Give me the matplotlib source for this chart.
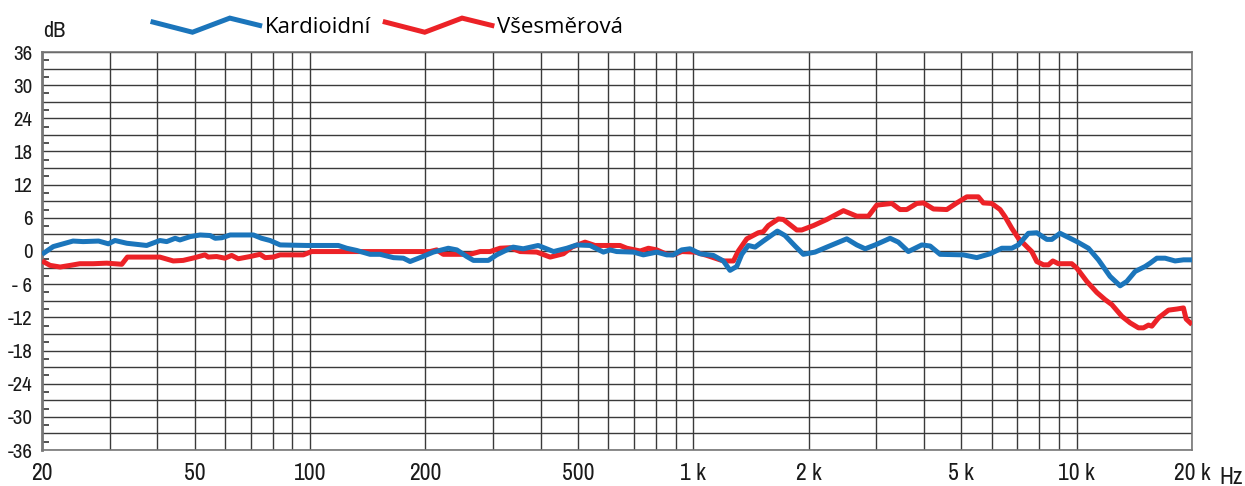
"""
plot.py

Frequency response of a microphone, cardioid vs. omnidirectional pattern.
"""
import matplotlib
matplotlib.use('Agg')
import matplotlib.pyplot as plt
import matplotlib.font_manager as fm
from matplotlib.font_manager import FontProperties
from matplotlib.legend_handler import HandlerBase
from matplotlib.lines import Line2D

# --- data (Hz, dB) ---
lstKardFreq = [20, 21.4, 24.1, 25.6, 28.1, 29.8, 31.0, 33.3, 37.5, 40.6, 42.3, 44.5, 45.8, 48.7,
               51.7, 54.9, 56.6, 58.9, 61.9, 71.2, 74.8, 78.7, 83.6, 98.1, 118.6, 124.7, 132.4,
               143.5, 152.4, 165.1, 175.3, 182.5, 193.7, 209.8, 229.6, 241.6, 256.5, 267, 292,
               307, 333, 339, 360, 394, 432, 468, 497, 538, 583, 607, 631, 698, 741, 803, 853,
               887, 933, 981, 1042, 1128, 1198, 1247, 1298, 1338, 1392, 1449, 1523, 1657, 1735,
               1843, 1937, 2078, 2230, 2514, 2670, 2808, 2982, 3262, 3428, 3640, 3946, 4148,
               4404, 5068, 5492, 5948, 6380, 6776, 7050, 7486, 7872, 8362, 8618, 9056, 10012,
               10736, 11400, 12228, 12986, 13520, 14212, 15092, 15552, 16192, 17018, 18070,
               18998, 20000]
lstKardDb = [-0.6, 0.8, 1.8, 1.7, 1.8, 1.3, 1.9, 1.4, 1.0, 1.9, 1.7, 2.3, 2.0, 2.6,
             2.9, 2.8, 2.3, 2.4, 2.9, 2.9, 2.3, 1.9, 1.1, 1.0, 1.0, 0.5, 0.1,
             -0.6, -0.6, -1.2, -1.3, -1.9, -1.2, -0.2, 0.5, 0.2, -1.0, -1.7, -1.7,
             -0.7, 0.5, 0.7, 0.4, 1.0, -0.1, 0.5, 1.1, 1.0, -0.2, 0.2, -0.1, -0.2, -0.7, -0.2, -0.7,
             -0.7, 0.2, 0.4, -0.5, -0.8, -1.8, -3.5, -2.8, -0.6, 1.0, 0.7, 1.8, 3.6, 2.8,
             0.9, -0.6, -0.2, 0.7, 2.2, 1.1, 0.4, 1.1, 2.3, 1.6, -0.1, 1.1, 0.9,
             -0.6, -0.7, -1.2, -0.5, 0.5, 0.5, 1.1, 3.2, 3.3, 2.1, 2.1, 3.2, 1.7,
             0.5, -1.6, -4.6, -6.3, -5.5, -3.7, -2.8, -2.2, -1.3, -1.3, -1.8,
             -1.6, -1.6]

lstVsesFreq = [20, 21.0, 22.3, 23.7, 25.1, 27.2, 29.5, 32.3, 33.4, 36.0, 40.6, 44.0, 46.7, 50.1,
               53.2, 54.3, 57.1, 60.0, 62.5, 65.0, 69.8, 74.1, 76.4, 80.2, 83.6, 96.1, 101,
               205.7, 214.1, 222.8, 261.7, 278, 295, 313.3, 333, 353.4, 390.6, 423.2, 458.4,
               482, 522, 554, 644, 671, 727, 764, 803, 853, 887, 933, 1011, 1085, 1198, 1273,
               1311, 1379, 1478, 1523, 1570, 1667, 1718, 1862, 1919, 2058, 2230, 2464, 2670,
               2863, 3011, 3296, 3463, 3605, 3829, 3985, 4233, 4585, 4869, 5171, 5542, 5710,
               6006, 6315, 6507, 6776, 7050, 7411, 7638, 7872, 8195, 8444, 8670, 8963, 9713,
               10012, 10632, 11291, 11868, 12357, 13120, 13795, 14499, 14944, 15400, 15715,
               16355, 17366, 18262, 18998, 19304, 20000]
lstVsesDb = [-1.8, -2.6, -2.9, -2.6, -2.3, -2.3, -2.2, -2.4, -1.1, -1.1, -1.1, -1.8, -1.7, -1.2,
             -0.7, -1.1, -1.0, -1.3, -0.8, -1.4, -1.0, -0.6, -1.2, -1.1, -0.7, -0.7, -0.1,
             -0.1, 0.2, -0.6, -0.6, -0.1, -0.1, 0.5, 0.6, -0.1, -0.2, -1.1, -0.5,
             0.7, 1.6, 1.0, 1.0, 0.5, 0.0, 0.5, 0.2, -0.6, -0.7, -0.1, -0.2, -0.8, -1.8, -1.8,
             0.0, 2.2, 3.3, 3.5, 4.6, 5.8, 5.7, 3.8, 3.8, 4.6, 5.7, 7.3, 6.3,
             6.3, 8.3, 8.6, 7.5, 7.5, 8.6, 8.7, 7.6, 7.5, 8.7, 9.8, 9.8, 8.7,
             8.6, 7.5, 6.2, 4.1, 2.3, 0.8, -0.1, -1.9, -2.5, -2.5, -1.8, -2.3, -2.3,
             -3.1, -5.5, -7.5, -8.8, -9.7, -11.8, -13.0, -13.9, -13.9, -13.4, -13.6,
             -12.1, -10.7, -10.5, -10.3, -12.3, -13.3]

lstSeriesNames = ['Kardioidní', 'Všesměrová']

lstXTicks      = [20, 50, 100, 200, 500, 1000, 2000, 5000, 10000, 20000]
lstXTickLabels = ['20', '50', '100', '200', '500', '1 k', '2 k', '5 k', '10 k', '20 k']
lstYTicks      = [36, 30, 24, 18, 12, 6, 0, -6, -12, -18, -24, -30, -36]
lstYTickLabels = ['36', '30', '24', '18', '12', '6', '0', '- 6', '-12', '-18', '-24', '-30', '-36']

c_strBlue = '#1b75bb'
c_strRed  = '#ec2227'
c_strGrid = '#3a3a3a'
c_strText = '#1a1a1a'


def pickNarrowFont():
    """Find a narrow sans font if one is installed, otherwise fall back to Roboto."""
    lstFonts = fm.fontManager.ttflist
    for f in lstFonts:
        if 'Narrow' in f.name or 'Condensed' in f.name:
            return (f.name, 'normal')
    for f in lstFonts:
        if str(f.stretch) in ('condensed', 'semi-condensed', 'extra-condensed') or \
           (isinstance(f.stretch, (int, float)) and f.stretch < 500):
            return (f.name, f.stretch)
    lstNames = set(f.name for f in lstFonts)
    if 'Roboto' in lstNames:
        return ('Roboto', 'normal')
    return ('DejaVu Sans', 'normal')


(c_strNarrow, c_pStretch) = pickNarrowFont()
c_strLegendFont = 'Open Sans'


class HandlerZigzag(HandlerBase):
    """Legend handle drawn as a small zigzag, like in the original chart."""
    def create_artists(self, legend, orig_handle, xdescent, ydescent, width, height, fontsize, trans):
        xs = [-xdescent + width * f for f in (0.0, 0.37, 0.72, 1.0)]
        ys = [-ydescent + height * f for f in (0.72, 0.0, 1.0, 0.48)]
        pLine = Line2D(xs, ys, color=orig_handle.get_color(), linewidth=orig_handle.get_linewidth(),
                       solid_joinstyle='miter', transform=trans)
        return [pLine]


def main():
    fig = plt.figure(figsize=(12.45, 4.86), dpi=100)
    ax = fig.add_axes([42 / 1245, 1 - 450 / 486, 1150 / 1245, 398 / 486])

    # grid
    for dB in range(-36, 37, 3):
        ax.axhline(dB, color=c_strGrid, linewidth=1.0, zorder=1)
    lstDecadeLines = [m * 10 ** e for e in range(1, 4) for m in range(1, 10)] + [10000, 20000]
    for f in lstDecadeLines:
        if f >= 20:
            ax.axvline(f, color=c_strGrid, linewidth=1.0, zorder=1)

    lnKard, = ax.plot(lstKardFreq, lstKardDb, color=c_strBlue, linewidth=3.6, zorder=4,
                      solid_joinstyle='round', solid_capstyle='butt')
    lnVses, = ax.plot(lstVsesFreq, lstVsesDb, color=c_strRed, linewidth=3.6, zorder=3,
                      solid_joinstyle='round', solid_capstyle='butt')

    ax.set_xscale('log')
    ax.set_xlim(20, 20000)
    ax.set_ylim(-36, 36)

    for strSide in ['left', 'right', 'top', 'bottom']:
        ax.spines[strSide].set_color('#777777')
        ax.spines[strSide].set_linewidth(1.2)
    ax.spines['left'].set_linewidth(2.0)

    ax.set_xticks(lstXTicks)
    ax.set_xticklabels(lstXTickLabels)
    ax.xaxis.set_minor_locator(matplotlib.ticker.NullLocator())
    ax.tick_params(axis='x', which='major', length=0, pad=9, labelcolor=c_strText)

    ax.set_yticks(lstYTicks)
    ax.set_yticklabels(lstYTickLabels)
    ax.set_yticks([v + 1.5 for v in range(-36, 36, 3)], minor=True)
    ax.tick_params(axis='y', which='major', length=0, pad=7, labelcolor=c_strText)
    ax.tick_params(axis='y', which='minor', direction='in', length=5, width=1.2, color='#333333')

    pXFont = FontProperties(family=c_strNarrow, stretch=c_pStretch, size=17)
    pYFont = FontProperties(family=c_strNarrow, stretch=c_pStretch, size=15)
    for lbl in ax.get_xticklabels():
        lbl.set_fontproperties(pXFont)
    for lbl in ax.get_yticklabels():
        lbl.set_fontproperties(pYFont)

    ax.text(0.001, 1 + 15 / 398, 'dB', transform=ax.transAxes, ha='left', va='baseline',
            fontproperties=FontProperties(family=c_strNarrow, stretch=c_pStretch, size=16),
            color=c_strText)
    fig.text(1243 / 1245, 1 - 484 / 486, 'Hz', ha='right', va='baseline',
             fontproperties=pXFont, color=c_strText)

    ax.legend([lnKard, lnVses], lstSeriesNames, ncol=2, frameon=False,
              loc='lower left', bbox_to_anchor=(153 / 1245, 1 - 38 / 486),
              bbox_transform=fig.transFigure, borderaxespad=0, borderpad=0,
              handlelength=4.8, handleheight=0.6, handletextpad=0.22, columnspacing=0.65,
              prop={'family': c_strLegendFont, 'size': 16},
              handler_map={Line2D: HandlerZigzag()})

    fig.savefig('out.png', dpi=100)


if __name__ == '__main__':
    main()
